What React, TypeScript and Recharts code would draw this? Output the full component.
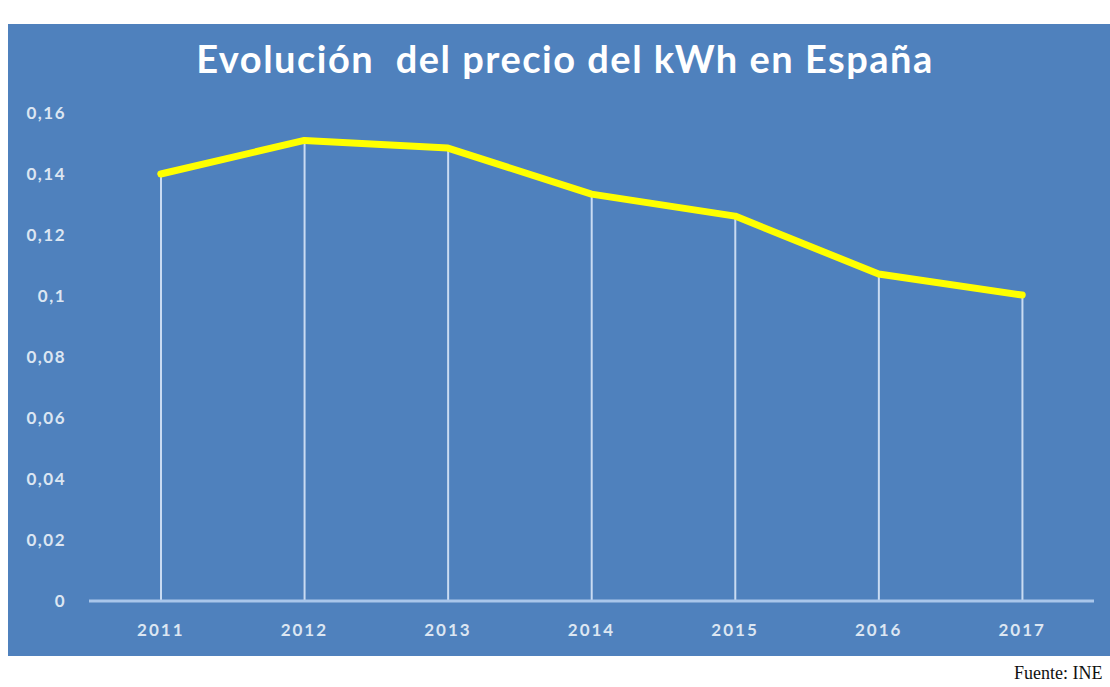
import { Bar, ComposedChart, Line, XAxis, YAxis } from "recharts";

const years = ["2011", "2012", "2013", "2014", "2015", "2016", "2017"];
const precio = [0.14, 0.151, 0.1485, 0.1334, 0.1262, 0.1072, 0.1003];
const yTicks = [0, 0.02, 0.04, 0.06, 0.08, 0.1, 0.12, 0.14, 0.16];

const data = years.map((year, i) => ({ year, precio: precio[i] }));

const fmt = (v: number) => String(v).replace(".", ",");

export default function App() {
  return (
    <div style={{ position: "absolute", left: 0, top: 0, width: 1110, height: 687, background: "#fff", overflow: "hidden" }}>
      <div style={{ position: "absolute", left: 8, top: 24, width: 1102, height: 632, background: "#4f81bd" }}>
        <div
          style={{
            position: "absolute",
            left: 0,
            top: 11,
            width: 1114,
            textAlign: "center",
            color: "#ffffff",
            fontFamily: "Lato, sans-serif",
            fontWeight: 700,
            fontSize: 38,
            letterSpacing: 1.5,
          }}
        >
          Evolución&nbsp; del precio del kWh en España
        </div>
        <ComposedChart width={1102} height={632} data={data} margin={{ top: 89, right: 16, left: 0, bottom: 25 }}>
          <XAxis
            dataKey="year"
            height={30}
            tickLine={false}
            tickSize={0}
            tickMargin={23}
            axisLine={{ stroke: "#a9c6ea", strokeWidth: 3 }}
            tick={{ fill: "#dce6f2", fontSize: 17, fontWeight: 700, fontFamily: "Lato, sans-serif", letterSpacing: 2 }}
          />
          <YAxis
            width={81}
            domain={[0, 0.16]}
            ticks={yTicks}
            tickFormatter={fmt}
            axisLine={false}
            tickLine={false}
            tickSize={0}
            tickMargin={23}
            tick={{ fill: "#dce6f2", fontSize: 17, fontWeight: 700, fontFamily: "Lato, sans-serif", letterSpacing: 1.5 }}
          />
          <Bar dataKey="precio" barSize={2} fill="#c9dbf2" isAnimationActive={false} />
          <Line
            dataKey="precio"
            stroke="#ffff00"
            strokeWidth={7}
            strokeLinejoin="round"
            strokeLinecap="round"
            dot={false}
            activeDot={false}
            isAnimationActive={false}
          />
        </ComposedChart>
      </div>
      <div
        style={{
          position: "absolute",
          left: 1014,
          top: 663,
          fontFamily: "'Liberation Serif', 'Times New Roman', serif",
          fontSize: 18,
          color: "#111",
          whiteSpace: "nowrap",
        }}
      >
        Fuente: INE
      </div>
    </div>
  );
}
